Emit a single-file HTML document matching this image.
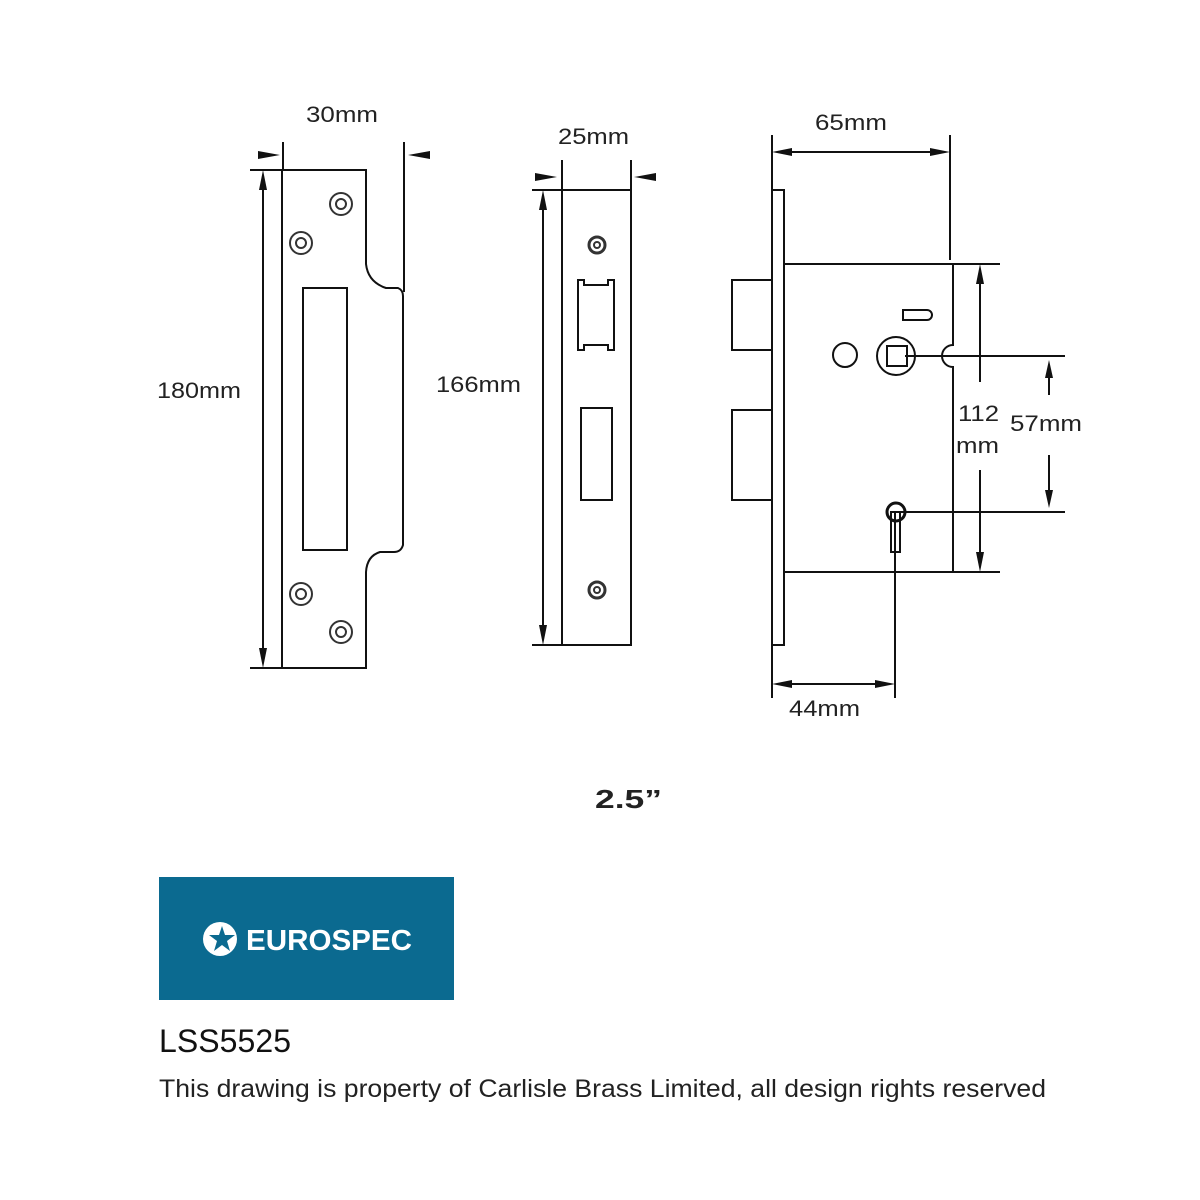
<!DOCTYPE html>
<html><head><meta charset="utf-8"><style>
html,body{margin:0;padding:0;background:#fff;width:1200px;height:1200px;overflow:hidden}
svg{display:block}
</style></head><body>
<svg width="1200" height="1200" viewBox="0 0 1200 1200" xmlns="http://www.w3.org/2000/svg" font-family="Liberation Sans, sans-serif">
<g fill="none" stroke="#111" stroke-width="2">
<path d="M282,170 H366 V264 Q368,282 386,288 H398 Q403,290 403,296 V545 Q401,552 394,552 H380 Q367,556 366,572 V668 H282 Z"/>
<rect x="303" y="288" width="44" height="262"/>
<line x1="404" y1="142" x2="404" y2="292"/>
<line x1="283" y1="142" x2="283" y2="170"/>
<line x1="250" y1="170" x2="282" y2="170"/>
<line x1="250" y1="668" x2="282" y2="668"/>
<line x1="263" y1="185" x2="263" y2="652"/>
<rect x="562" y="190" width="69" height="455"/>
<path d="M578,280 H584 V285 H608 V280 H614 V350 H608 V345 H584 V350 H578 Z"/>
<rect x="581" y="408" width="31" height="92"/>
<line x1="562" y1="160" x2="562" y2="190"/>
<line x1="631" y1="160" x2="631" y2="190"/>
<line x1="532" y1="190" x2="562" y2="190"/>
<line x1="532" y1="645" x2="562" y2="645"/>
<line x1="543" y1="205" x2="543" y2="630"/>
<rect x="772" y="190" width="12" height="455"/>
<rect x="732" y="280" width="40" height="70"/>
<rect x="732" y="410" width="40" height="90"/>
<path d="M784,264 H1000 M953,264 V345 A11,11 0 0 0 953,367 V572 M784,572 H1000"/>
<line x1="950" y1="135" x2="950" y2="260"/>
<line x1="772" y1="135" x2="772" y2="190"/>
<line x1="772" y1="645" x2="772" y2="698"/>
<line x1="895" y1="512" x2="895" y2="698"/>
<line x1="787" y1="684" x2="880" y2="684"/>
<line x1="787" y1="152" x2="935" y2="152"/>
<circle cx="845" cy="355" r="12"/>
<circle cx="896" cy="356" r="19"/>
<rect x="887" y="346" width="20" height="20"/>
<path d="M903,310 H927 A5,5 0 0 1 927,320 H903 Z"/>
<circle cx="896" cy="512" r="9" stroke-width="3"/>
<rect x="891" y="512" width="9" height="40"/>
<line x1="905" y1="356" x2="1065" y2="356"/>
<line x1="896" y1="512" x2="1065" y2="512"/>
<line x1="980" y1="278" x2="980" y2="382"/>
<line x1="980" y1="470" x2="980" y2="558"/>
<line x1="1049" y1="372" x2="1049" y2="395"/>
<line x1="1049" y1="455" x2="1049" y2="497"/>
</g>
<g fill="#111">
<polygon points="258,151 280,155 258,159"/>
<polygon points="430,151 408,155 430,159"/>
<polygon points="259,190 263,170 267,190"/>
<polygon points="259,648 263,668 267,648"/>
<polygon points="535,173 557,177 535,181"/>
<polygon points="656,173 634,177 656,181"/>
<polygon points="539,210 543,190 547,210"/>
<polygon points="539,625 543,645 547,625"/>
<polygon points="792,148 772,152 792,156"/>
<polygon points="930,148 950,152 930,156"/>
<polygon points="792,680 772,684 792,688"/>
<polygon points="875,680 895,684 875,688"/>
<polygon points="976,284 980,264 984,284"/>
<polygon points="976,552 980,572 984,552"/>
<polygon points="1045,378 1049,360 1053,378"/>
<polygon points="1045,490 1049,508 1053,490"/>
</g>
<g fill="none" stroke="#333" stroke-width="2">
<circle cx="341" cy="204" r="11"/><circle cx="341" cy="204" r="5"/>
<circle cx="301" cy="243" r="11"/><circle cx="301" cy="243" r="5"/>
<circle cx="301" cy="594" r="11"/><circle cx="301" cy="594" r="5"/>
<circle cx="341" cy="632" r="11"/><circle cx="341" cy="632" r="5"/>
<circle cx="597" cy="245" r="8" stroke-width="3"/><circle cx="597" cy="245" r="3"/>
<circle cx="597" cy="590" r="8" stroke-width="3"/><circle cx="597" cy="590" r="3"/>
</g>
<g fill="#222" font-size="22">
<text x="306" y="122" textLength="72" lengthAdjust="spacingAndGlyphs">30mm</text>
<text x="558" y="144" textLength="71" lengthAdjust="spacingAndGlyphs">25mm</text>
<text x="815" y="130" textLength="72" lengthAdjust="spacingAndGlyphs">65mm</text>
<text x="157" y="398" textLength="84" lengthAdjust="spacingAndGlyphs">180mm</text>
<text x="436" y="392" textLength="85" lengthAdjust="spacingAndGlyphs">166mm</text>
<text x="958" y="421" textLength="41" lengthAdjust="spacingAndGlyphs">112</text>
<text x="956" y="453" textLength="43" lengthAdjust="spacingAndGlyphs">mm</text>
<text x="1010" y="431" textLength="72" lengthAdjust="spacingAndGlyphs">57mm</text>
<text x="789" y="716" textLength="71" lengthAdjust="spacingAndGlyphs">44mm</text>
<text x="595" y="808" font-weight="bold" font-size="26" textLength="67" lengthAdjust="spacingAndGlyphs">2.5”</text>
</g>
<rect x="159" y="877" width="295" height="123" fill="#0b6a90"/>
<circle cx="220" cy="939" r="17" fill="#fff"/>
<polygon points="222,926 225,935 235,935 227,941 230,951 222,945 214,951 217,941 209,935 219,935" fill="#0b6a90"/>
<text x="246" y="950" fill="#fff" font-size="29" font-weight="bold" textLength="166" lengthAdjust="spacingAndGlyphs">EUROSPEC</text>
<text x="159" y="1052" fill="#111" font-size="32" textLength="132">LSS5525</text>
<text x="159" y="1097" fill="#222" font-size="25" textLength="887" lengthAdjust="spacingAndGlyphs">This drawing is property of Carlisle Brass Limited, all design rights reserved</text>
</svg>
</body></html>
